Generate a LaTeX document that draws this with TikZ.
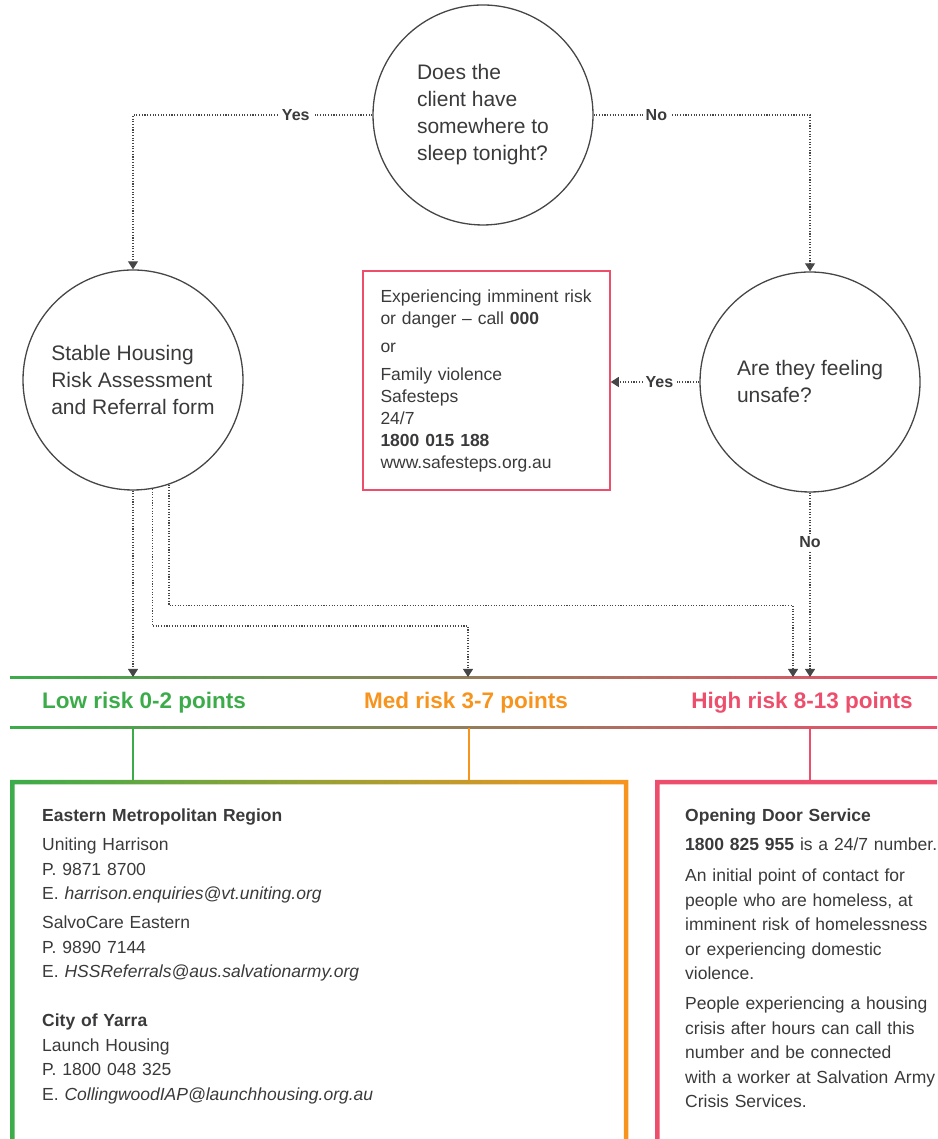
\documentclass[tikz,border=0pt]{standalone}
\usepackage{fontspec}
\setmainfont{Liberation Sans}
\usetikzlibrary{arrows.meta}

\definecolor{riskgreen}{RGB}{60,172,74}
\definecolor{riskorange}{RGB}{247,148,30}
\definecolor{riskpink}{RGB}{237,78,108}
\definecolor{inkgray}{RGB}{58,58,60}
\definecolor{linegray}{RGB}{70,70,72}

\begin{document}
\begin{tikzpicture}[x=1pt, y=1pt,
    question/.style={circle, draw=linegray, line width=1.3pt, minimum size=220pt, inner sep=0pt, align=left, text=inkgray, font=\fontsize{21}{27}\selectfont},
    flow/.style={draw=linegray, line width=1.1pt, dash pattern=on 1.1pt off 1.6pt, -{Triangle[width=10pt, length=8pt]}},
    answer/.style={fill=white, inner sep=3pt, text=inkgray, font=\fontsize{16}{18}\selectfont\bfseries},
    risk/.style={font=\fontsize{22.5}{26}\selectfont\bfseries},
    info/.style={anchor=base west, align=left, text=inkgray, inner sep=0pt, font=\fontsize{17.5}{24.5}\selectfont},
    stem/.style={line width=1.3pt}]

    \path [use as bounding box, clip] (0, 0) rectangle (937, 1139);

    \node (sleep) [question, at={(483, 1024)}] {Does the\\client have\\somewhere to\\sleep tonight?};
    \node (assess) [question, at={(133, 759)}] {Stable Housing\\Risk Assessment\\and Referral form};
    \node (unsafe) [question, at={(810, 757)}] {Are they feeling\\unsafe?};
    \node (safesteps) [draw=riskpink, line width=1.5pt, minimum width=247pt, minimum height=219pt, align=left, text width=212pt, text=inkgray, font=\fontsize{17.5}{22}\selectfont, at={(486.5, 758.5)}] {Experiencing imminent risk\\or danger -- call \textbf{000}\\[6pt]or\\[6pt]Family violence\\Safesteps\\24/7\\\textbf{1800 015 188}\\www.safesteps.org.au};

    \shade [left color=riskgreen, middle color=riskorange, right color=riskpink] (10, 460) rectangle (937, 462);
    \shade [left color=riskgreen, middle color=riskorange, right color=riskpink] (10, 410) rectangle (937, 412);

    \coordinate (lowin) at (133, 462);
    \coordinate (medin) at (468, 462);
    \coordinate (highin) at (793, 462);
    \coordinate (nohigh) at (810, 462);
    \coordinate (lowout) at (133, 411);
    \coordinate (medout) at (469, 411);
    \coordinate (highout) at (810, 411);

    \node (low) [risk, text=riskgreen, at={(144, 436)}] {Low risk 0-2 points};
    \node (med) [risk, text=riskorange, at={(466, 436)}] {Med risk 3-7 points};
    \node (high) [risk, text=riskpink, at={(802, 436)}] {High risk 8-13 points};

    \node (eastern) [minimum width=618pt, minimum height=380pt, inner sep=0pt, anchor=north west, at={(10, 359)}] {};
    \node (opening) [minimum width=300pt, minimum height=380pt, inner sep=0pt, anchor=north west, at={(655, 359)}] {};
    \shade [left color=riskgreen, right color=riskorange, even odd rule] (eastern.north west) rectangle (eastern.south east) ([shift={(4.5, -4.5)}]eastern.north west) rectangle ([shift={(-4.5, 4.5)}]eastern.south east);
    \fill [riskpink, even odd rule] (opening.north west) rectangle (opening.south east) ([shift={(4.5, -4.5)}]opening.north west) rectangle ([shift={(-4.5, 4.5)}]opening.south east);

    \draw [stem, riskgreen] (lowout) -- (lowout |- eastern.north);
    \draw [stem, riskorange] (medout) -- (medout |- eastern.north);
    \draw [stem, riskpink] (highout) -- (highout |- opening.north);

    \draw [flow] (sleep) -| node [answer, pos=0.16] {Yes} (assess);
    \draw [flow] (sleep) -| node [answer, pos=0.145] {No} (unsafe);
    \draw [flow] (unsafe.west) -- node [answer, pos=0.45] {Yes} (unsafe.west -| safesteps.east);
    \draw [flow] (unsafe) -- node [answer, pos=0.27] {No} (nohigh);
    \draw [flow] (assess) -- (lowin);
    \draw [flow] (assess.-80) -- ++(0, -137) -| (medin);
    \draw [flow] (assess.-71) -- ++(0, -121) -| (highin);

    \node (easterntext) [info, text width=560pt, at={(42, 317)}] {\textbf{Eastern Metropolitan Region}\\[4.5pt]Uniting Harrison\\P. 9871 8700\\E. \textit{harrison.enquiries@vt.uniting.org}\\[4.5pt]SalvoCare Eastern\\P. 9890 7144\\E. \textit{HSSReferrals@aus.salvationarmy.org}\\[24.5pt]\textbf{City of Yarra}\\Launch Housing\\P. 1800 048 325\\E. \textit{CollingwoodIAP@launchhousing.org.au}};
    \node (openingtext) [info, text width=255pt, at={(685, 317)}] {\textbf{Opening Door Service}\\[4.5pt]\textbf{1800 825 955} is a 24/7 number.\\[6.5pt]An initial point of contact for\\people who are homeless, at\\imminent risk of homelessness\\or experiencing domestic\\violence.\\[5.5pt]People experiencing a housing\\crisis after hours can call this\\number and be connected\\with a worker at Salvation Army\\Crisis Services.};
\end{tikzpicture}
\end{document}
